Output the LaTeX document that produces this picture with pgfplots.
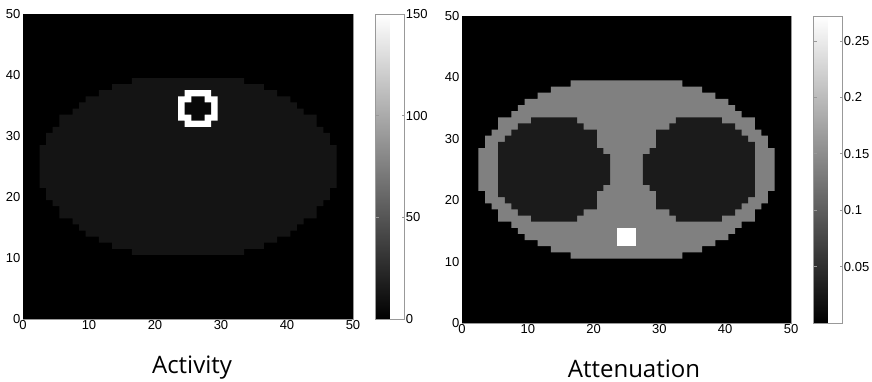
\documentclass[border=0pt]{standalone}
\usepackage{pgfplots}
\pgfplotsset{compat=1.18}
\usepackage{fontspec}
\setmainfont{Liberation Sans}
\newfontfamily\titlefont{Open Sans}
% gray levels = value / colorbar max
\definecolor{actbody}{gray}{0.08}   % activity 12 of 150
\definecolor{actcold}{gray}{0.03}   % activity ~4 of 150
\definecolor{atbody}{gray}{0.50}    % attenuation 0.136 of 0.272
\definecolor{atlung}{gray}{0.105}   % attenuation 0.0285 of 0.272
\definecolor{framegray}{gray}{0.6}
\pgfplotsset{
  mstyle/.style={
    scale only axis, axis on top=false,
    xmin=0, xmax=50, ymin=0, ymax=50,
    xtick={0,10,...,50}, ytick={0,10,...,50},
    tick align=inside, major tick length=4pt,
    axis line style={framegray, line width=0.8pt},
    tick style={framegray, line width=0.6pt},
    tick label style={font=\fontsize{13}{14}\selectfont},
    xticklabel style={inner sep=1.5pt},
    yticklabel style={inner sep=2.5pt},
    /pgf/number format/assume math mode=true,
    colorbar, colormap/blackwhite,
  },
  cbstyle/.style={
    width=29pt, at={(parent axis.north east)}, anchor=north west, xshift=14pt,
    axis line style={framegray, line width=0.8pt},
    tick style={framegray, line width=0.6pt},
    tick align=inside, major tick length=3pt,
    ytick pos=both, yticklabel pos=right,
    yticklabel style={font=\fontsize{13}{14}\selectfont, inner sep=1.2pt},
    /pgf/number format/assume math mode=true,
    scaled y ticks=false,
  }
}
\begin{document}
\begin{tikzpicture}
\useasboundingbox (0pt,0pt) rectangle (872pt,382pt);
% ---------------- Activity ----------------
\begin{axis}[mstyle, at={(23pt,63pt)}, anchor=south west, width=330pt, height=305pt,
  point meta min=0, point meta max=150,
  colorbar style={cbstyle, ytick={0,50,100,150}}]
\addplot[fill=black, draw=none, mark=none] coordinates {(0,0)(50,0)(50,50)(0,50)};
\addplot[fill=actbody, draw=none, mark=none] coordinates {
(16.5,39.5)(33.5,39.5)(33.5,38.5)(36.5,38.5)(36.5,37.5)(38.5,37.5)(38.5,36.5)(40.5,36.5)(40.5,35.5)(41.5,35.5)(41.5,34.5)(42.5,34.5)(42.5,33.5)(44.5,33.5)(44.5,31.5)(45.5,31.5)(45.5,30.5)(46.5,30.5)(46.5,28.5)(47.5,28.5)(47.5,21.5)(46.5,21.5)(46.5,19.5)(45.5,19.5)(45.5,18.5)(44.5,18.5)(44.5,16.5)(42.5,16.5)(42.5,15.5)(41.5,15.5)(41.5,14.5)(40.5,14.5)(40.5,13.5)(38.5,13.5)(38.5,12.5)(36.5,12.5)(36.5,11.5)(33.5,11.5)(33.5,10.5)
(16.5,10.5)(16.5,11.5)(13.5,11.5)(13.5,12.5)(11.5,12.5)(11.5,13.5)(9.5,13.5)(9.5,14.5)(8.5,14.5)(8.5,15.5)(7.5,15.5)(7.5,16.5)(5.5,16.5)(5.5,18.5)(4.5,18.5)(4.5,19.5)(3.5,19.5)(3.5,21.5)(2.5,21.5)(2.5,28.5)(3.5,28.5)(3.5,30.5)(4.5,30.5)(4.5,31.5)(5.5,31.5)(5.5,33.5)(7.5,33.5)(7.5,34.5)(8.5,34.5)(8.5,35.5)(9.5,35.5)(9.5,36.5)(11.5,36.5)(11.5,37.5)(13.5,37.5)(13.5,38.5)(16.5,38.5)(16.5,39.5)};
% hot ring (150)
\addplot[fill=white, draw=none, mark=none] coordinates {
(24.5,37.5)(28.5,37.5)(28.5,36.5)(29.5,36.5)(29.5,32.5)(28.5,32.5)(28.5,31.5)(24.5,31.5)(24.5,32.5)(23.5,32.5)(23.5,36.5)(24.5,36.5)};
\addplot[fill=actcold, draw=none, mark=none] coordinates {
(25.5,36.5)(27.5,36.5)(27.5,35.5)(28.5,35.5)(28.5,33.5)(27.5,33.5)(27.5,32.5)(25.5,32.5)(25.5,33.5)(24.5,33.5)(24.5,35.5)(25.5,35.5)};
\end{axis}
% ---------------- Attenuation ----------------
\begin{axis}[mstyle, at={(462pt,59pt)}, anchor=south west, width=329pt, height=307pt,
  point meta min=0, point meta max=0.272,
  colorbar style={cbstyle, ytick={0.05,0.1,0.15,0.2,0.25},
    yticklabels={0.05,0.1,0.15,0.2,0.25}}]
\addplot[fill=black, draw=none, mark=none] coordinates {(0,0)(50,0)(50,50)(0,50)};
\addplot[fill=atbody, draw=none, mark=none] coordinates {
(16.5,39.5)(33.5,39.5)(33.5,38.5)(36.5,38.5)(36.5,37.5)(38.5,37.5)(38.5,36.5)(40.5,36.5)(40.5,35.5)(41.5,35.5)(41.5,34.5)(42.5,34.5)(42.5,33.5)(44.5,33.5)(44.5,31.5)(45.5,31.5)(45.5,30.5)(46.5,30.5)(46.5,28.5)(47.5,28.5)(47.5,21.5)(46.5,21.5)(46.5,19.5)(45.5,19.5)(45.5,18.5)(44.5,18.5)(44.5,16.5)(42.5,16.5)(42.5,15.5)(41.5,15.5)(41.5,14.5)(40.5,14.5)(40.5,13.5)(38.5,13.5)(38.5,12.5)(36.5,12.5)(36.5,11.5)(33.5,11.5)(33.5,10.5)
(16.5,10.5)(16.5,11.5)(13.5,11.5)(13.5,12.5)(11.5,12.5)(11.5,13.5)(9.5,13.5)(9.5,14.5)(8.5,14.5)(8.5,15.5)(7.5,15.5)(7.5,16.5)(5.5,16.5)(5.5,18.5)(4.5,18.5)(4.5,19.5)(3.5,19.5)(3.5,21.5)(2.5,21.5)(2.5,28.5)(3.5,28.5)(3.5,30.5)(4.5,30.5)(4.5,31.5)(5.5,31.5)(5.5,33.5)(7.5,33.5)(7.5,34.5)(8.5,34.5)(8.5,35.5)(9.5,35.5)(9.5,36.5)(11.5,36.5)(11.5,37.5)(13.5,37.5)(13.5,38.5)(16.5,38.5)(16.5,39.5)};
% lungs
\addplot[fill=atlung, draw=none, mark=none] coordinates {
(10.5,33.5)(17.5,33.5)(17.5,32.5)(18.5,32.5)(18.5,31.5)(20.5,31.5)(20.5,28.5)(21.5,28.5)(21.5,27.5)(22.5,27.5)(22.5,22.5)(21.5,22.5)(21.5,21.5)(20.5,21.5)(20.5,18.5)(18.5,18.5)(18.5,17.5)(17.5,17.5)(17.5,16.5)(10.5,16.5)(10.5,17.5)(8.5,17.5)(8.5,18.5)(7.5,18.5)(7.5,19.5)(6.5,19.5)(6.5,20.5)(5.5,20.5)(5.5,29.5)(6.5,29.5)(6.5,30.5)(7.5,30.5)(7.5,31.5)(8.5,31.5)(8.5,32.5)(10.5,32.5)(10.5,33.5)};
\addplot[fill=atlung, draw=none, mark=none] coordinates {
(39.5,33.5)(32.5,33.5)(32.5,32.5)(31.5,32.5)(31.5,31.5)(29.5,31.5)(29.5,28.5)(28.5,28.5)(28.5,27.5)(27.5,27.5)(27.5,22.5)(28.5,22.5)(28.5,21.5)(29.5,21.5)(29.5,18.5)(31.5,18.5)(31.5,17.5)(32.5,17.5)(32.5,16.5)(39.5,16.5)(39.5,17.5)(41.5,17.5)(41.5,18.5)(42.5,18.5)(42.5,19.5)(43.5,19.5)(43.5,20.5)(44.5,20.5)(44.5,29.5)(43.5,29.5)(43.5,30.5)(42.5,30.5)(42.5,31.5)(41.5,31.5)(41.5,32.5)(39.5,32.5)(39.5,33.5)};
% bone insert (0.272)
\addplot[fill=white, draw=none, mark=none] coordinates {(23.5,12.5)(26.5,12.5)(26.5,15.5)(23.5,15.5)};
\end{axis}
\node[anchor=base, font=\titlefont\fontsize{24}{26}\selectfont] at (192pt,8pt) {Activity};
\node[anchor=base, font=\titlefont\fontsize{24}{26}\selectfont] at (634pt,4pt) {Attenuation};
\end{tikzpicture}
\end{document}
